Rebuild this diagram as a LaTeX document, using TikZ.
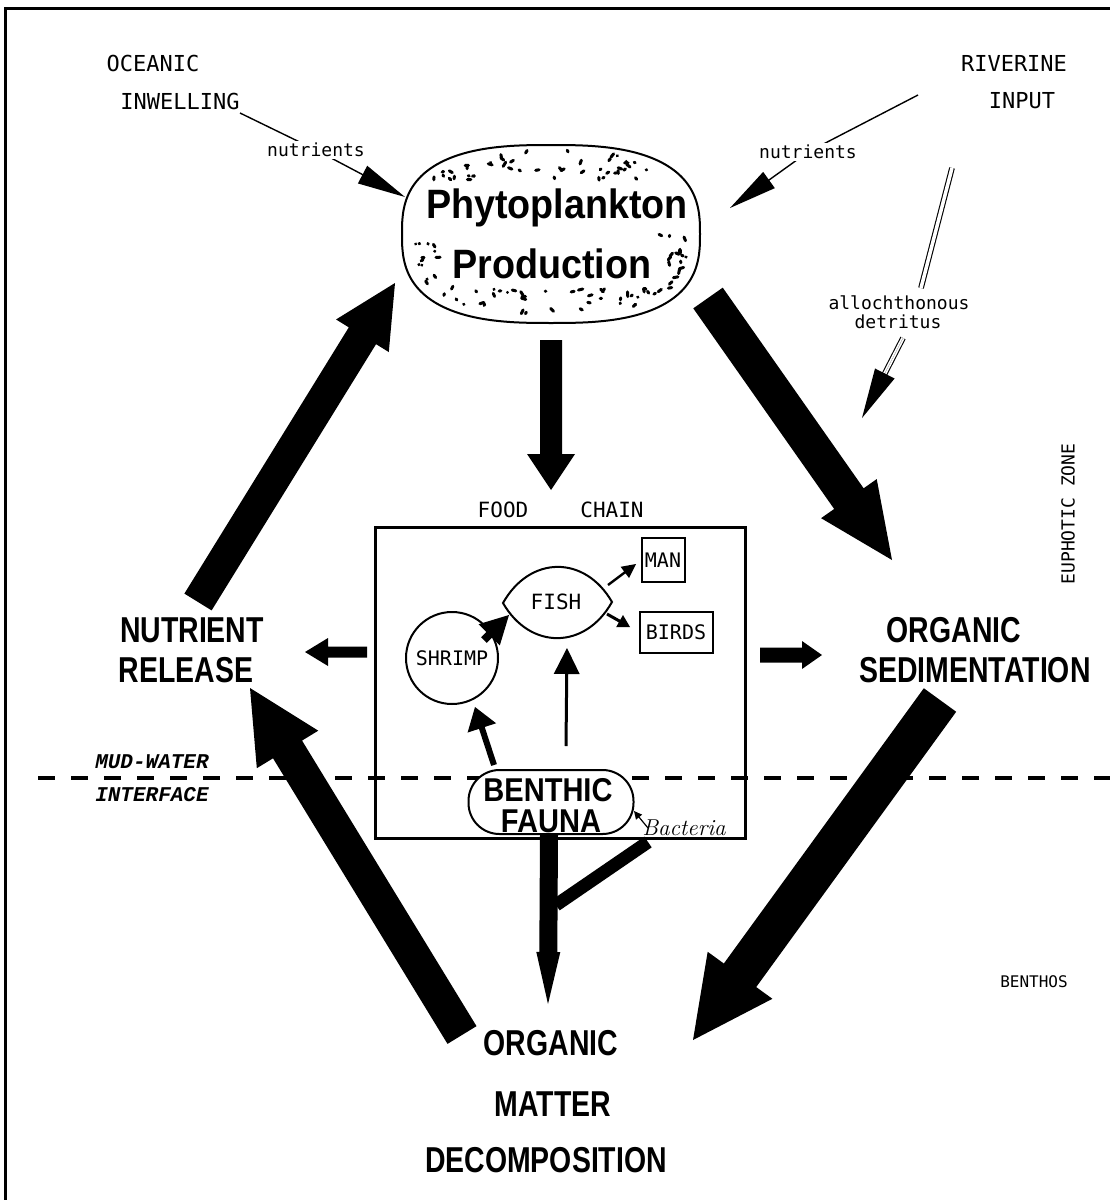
\documentclass[tikz,border=0pt]{standalone}
\usepackage{fontspec}
\usetikzlibrary{calc,arrows.meta}
\newfontfamily\tw{DejaVu Sans Mono}
\newfontfamily\heavy[FakeStretch=0.79]{Liberation Sans}
\newfontfamily\heavyb[FakeStretch=0.88]{Liberation Sans}
\newfontfamily\heavyp[FakeStretch=0.92]{Liberation Sans}
\newfontfamily\mudf{Liberation Mono}
\newcommand{\fatarrow}[5]{%
  \coordinate (faB) at ($(#2)!#5!(#1)$);
  \fill ($(#1)!#3!90:(#2)$) -- ($(faB)!#3!90:(#2)$) -- ($(faB)!#4!90:(#2)$) -- (#2)
    -- ($(faB)!#4!-90:(#2)$) -- ($(faB)!#3!-90:(#2)$) -- ($(#1)!#3!-90:(#2)$) -- cycle;}
\tikzset{
  tt/.style={font=\tw\fontsize{22}{26}\selectfont, inner sep=0pt},
  ttsmall/.style={font=\tw\fontsize{18}{22}\selectfont, inner sep=0pt},
  ttfc/.style={font=\tw\fontsize{21}{24}\selectfont, inner sep=0pt},
  ttside/.style={font=\tw\fontsize{16}{20}\selectfont, inner sep=0pt},
  lab/.style={font=\heavy\bfseries\fontsize{36}{40}\selectfont, inner sep=0pt},
  labb/.style={font=\heavyb\bfseries\fontsize{33}{36}\selectfont, inner sep=0pt},
  labp/.style={font=\heavyp\bfseries\fontsize{41}{44}\selectfont, inner sep=0pt},
  mud/.style={font=\mudf\bfseries\itshape\fontsize{21}{24}\selectfont, inner sep=0pt},
  thinbox/.style={draw, line width=2pt, inner sep=0pt},
}
\begin{document}
\begin{tikzpicture}[x=1pt,y=-1pt]
\useasboundingbox (0,0) rectangle (1110,1200);
\fill[white] (0,0) rectangle (1110,1200);
% frame
\draw[line width=3pt] (5,1200) -- (5,8) -- (1110,8);

% ---- sources text
\node[tt] (oc1) at (153,63) {OCEANIC};
\node[tt] (oc2) at (180,101) {INWELLING};
\node[tt] (rv1) at (1014,63) {RIVERINE};
\node[tt] (rv2) at (1022,101) {INPUT};

% ---- phytoplankton
\node[minimum width=297pt, minimum height=178pt, inner sep=0pt] (phyto) at (551,234) {};
\draw[line width=2pt] plot[domain=0:358, samples=180, variable=\t]
  ({551+149*sign(cos(\t))*(abs(cos(\t))+0.00001)^0.74},
   {234+89*sign(sin(\t))*(abs(sin(\t))+0.00001)^0.74}) -- cycle;
\pgfmathsetseed{23}
\foreach \i in {1,...,210}{
  \pgfmathsetmacro{\ta}{360*rnd}
  \pgfmathsetmacro{\rr}{0.62+0.31*rnd}
  \pgfmathsetmacro{\ca}{cos(\ta)}
  \pgfmathsetmacro{\sa}{sin(\ta)}
  \pgfmathsetmacro{\px}{551+149*\rr*sign(\ca)*(abs(\ca)+0.0001)^0.74}
  \pgfmathsetmacro{\py}{234+89*\rr*sign(\sa)*(abs(\sa)+0.0001)^0.74}
  \pgfmathtruncatemacro{\hide}{((\py>181)&&(\py<232)&&(\px>414)&&(\px<699))||((\py>238)&&(\py<287)&&(\px>438)&&(\px<665))}
  \pgfmathsetmacro{\da}{180*rnd}
  \pgfmathsetmacro{\dl}{5*rnd}
  \ifnum\hide=0
    \draw[line width=3pt,line cap=round] (\px,\py) -- ++(\da:\dl pt);
  \fi
}
\node[labp, anchor=base] (phy1) at (557,218) {Phytoplankton};
\node[labp, anchor=base] (phy2) at (552,278) {Production};

% ---- nutrient inputs
\coordinate (ocS) at (240,113);
\coordinate (ocN) at (316,150);
\coordinate (ocT) at (405,197);
\draw[line width=1.4pt] (ocS) -- (ocN);
\fatarrow{ocN}{ocT}{0.7pt}{10pt}{48pt}
\node[ttsmall, fill=white, inner sep=2pt] (ocLab) at (ocN) {nutrients};

\coordinate (rvS) at (918,95);
\coordinate (rvN) at (808,152);
\coordinate (rvT) at (730,208);
\draw[line width=1.4pt] (rvS) -- (rvN);
\fatarrow{rvN}{rvT}{0.7pt}{10pt}{48pt}
\node[ttsmall, fill=white, inner sep=2pt] (rvLab) at (rvN) {nutrients};

% ---- allochthonous detritus
\coordinate (alA) at (952,168);
\coordinate (alB) at (921,288);
\coordinate (alC) at (903,338);
\coordinate (alT) at (862,418);
\draw[line width=1.1pt, double, double distance=3.5pt] (alA) -- (alB);
\draw[line width=1.1pt, double, double distance=3.5pt] (alC) -- ($(alT)!48pt!(alC)$);
\fatarrow{alC}{alT}{0pt}{11pt}{50pt}
\node[ttsmall] (allo) at (899,303) {allochthonous};
\node[ttsmall] (detr) at (898,322) {detritus};

% ---- side labels
\node[ttside, font=\tw\fontsize{18}{20}\selectfont, rotate=90] (euph) at (1068,514) {EUPHOTIC ZONE};
\node[ttside] (benthos) at (1034,982) {BENTHOS};

% ---- main labels
\node[lab] (nr1) at (192,630) {NUTRIENT};
\node[lab] (nr2) at (186,670) {RELEASE};
\node[lab] (os1) at (954,630) {ORGANIC};
\node[lab] (os2) at (975,670) {SEDIMENTATION};
\node[lab] (od1) at (551,1043) {ORGANIC};
\node[lab] (od2) at (553,1104) {MATTER};
\node[lab] (od3) at (546,1160) {DECOMPOSITION};

% ---- mud-water interface
\node[mud] (mud1) at (152,762) {MUD-WATER};
\node[mud] (mud2) at (152,795) {INTERFACE};
\draw[line width=4pt, dash pattern=on 17pt off 16pt] (38,778) -- (1110,778);

% ---- food chain
\node[ttfc] (food) at (503,510) {FOOD};
\node[ttfc] (chain) at (612,510) {CHAIN};
\node[draw, line width=3pt, minimum width=370pt, minimum height=311pt] (fcbox) at (560,682.5) {};

\node[thinbox, minimum width=43pt, minimum height=44pt, font=\tw\fontsize{20}{22}\selectfont] (man) at (663,560) {MAN};
\node[thinbox, minimum width=73pt, minimum height=41pt, font=\tw\fontsize{20}{22}\selectfont] (birds) at (676,632) {BIRDS};
\node[draw, circle, line width=2pt, minimum size=92pt, inner sep=0pt, font=\tw\fontsize{20}{22}\selectfont] (shrimp) at (452,658) {SHRIMP};
\draw[line width=2pt] (503,603) .. controls (530,555) and (585,555) .. (612,602) .. controls (585,650) and (530,650) .. cycle;
\node[ttfc] (fish) at (556,602) {FISH};

\node[draw, line width=2pt, fill=white, rounded corners=31pt, minimum width=165pt, minimum height=64pt] (benthic) at (551,802) {};
\node[labb] (bf1) at (548,790) {BENTHIC};
\node[labb] (bf2) at (551,821) {FAUNA};

% food-chain arrows
\coordinate (fmS) at (608,585); \coordinate (fmT) at (636,564);
\fatarrow{fmS}{fmT}{1.2pt}{7pt}{14pt}
\coordinate (fbS) at (607,614); \coordinate (fbT) at (630,627);
\fatarrow{fbS}{fbT}{1.5pt}{7pt}{12pt}
\coordinate (sfS) at (484,640); \coordinate (sfT) at (509,615);
\fatarrow{sfS}{sfT}{4pt}{15pt}{28pt}
\coordinate (bsS) at (494,765); \coordinate (bsT) at (475,707);
\fatarrow{bsS}{bsT}{3pt}{15pt}{22pt}
\coordinate (bfS) at (566,746); \coordinate (bfT) at (567,648);
\fatarrow{bfS}{bfT}{1.5pt}{13pt}{26pt}

% bacteria
\node[font=\rmfamily\itshape\fontsize{23}{24}\selectfont, inner sep=0pt] (bact) at (684,828) {Bacteria};
\coordinate (baS) at (648,828); \coordinate (baT) at (634,811);
\fatarrow{baS}{baT}{0.6pt}{4pt}{8pt}

% box side arrows
\coordinate (lnS) at (367,652); \coordinate (lnT) at (305,652);
\fatarrow{lnS}{lnT}{5.5pt}{14pt}{23pt}
\coordinate (rsS) at (760,655); \coordinate (rsT) at (822,655);
\fatarrow{rsS}{rsT}{7.5pt}{14pt}{20pt}

% ---- big arrows
\coordinate (pdS) at (551,340); \coordinate (pdT) at (551,490);
\fatarrow{pdS}{pdT}{11pt}{24pt}{36pt}
\coordinate (psS) at (708,298); \coordinate (psT) at (892,560);
\fatarrow{psS}{psT}{18pt}{34pt}{75pt}
\coordinate (npS) at (198,602); \coordinate (npT) at (395,283);
\fatarrow{npS}{npT}{16pt}{31pt}{62pt}
\coordinate (sdS) at (940,700); \coordinate (sdT) at (693,1040);
\fatarrow{sdS}{sdT}{20pt}{40pt}{80pt}
\coordinate (dnS) at (462,1035); \coordinate (dnT) at (250,688);
\fatarrow{dnS}{dnT}{17pt}{36pt}{72pt}

% benthic -> decomposition
\coordinate (bdS) at (549,835); \coordinate (bdT) at (548,1004);
\fatarrow{bdS}{bdT}{9pt}{12pt}{52pt}
\coordinate (bxS) at (648,842); \coordinate (bxT) at (556,905);
\draw[line width=13pt] (bxS) -- (bxT);
\end{tikzpicture}
\end{document}
